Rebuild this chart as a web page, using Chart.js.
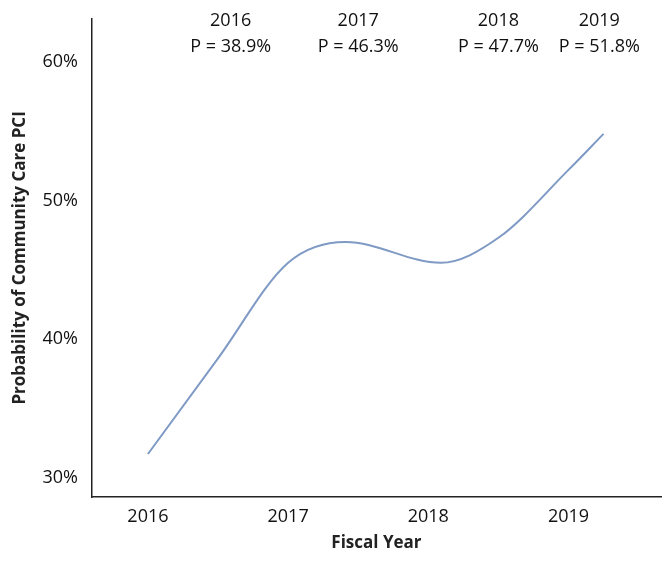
<!DOCTYPE html>
<html><head><meta charset="utf-8">
<script src="https://cdn.jsdelivr.net/npm/chart.js@4"></script>
<style>html,body{margin:0;padding:0;background:#fff}#w{width:664px;height:561px}</style>
</head><body><div id="w"><canvas id="c"></canvas></div>
<script>
const curveX = [2016, 2016.5, 2017, 2017.41, 2018.09, 2018.5, 2019, 2019.25];
const curveY = [31.7, 38.6, 45.5, 47.0, 45.5, 47.3, 52.2, 54.8];
const annotYears = ["2016", "2017", "2018", "2019"];
const annotLabels = ["P = 38.9%", "P = 46.3%", "P = 47.7%", "P = 51.8%"];
const annotX = [2016.59, 2017.5, 2018.5, 2019.22];
const xTicks = [2016, 2017, 2018, 2019];
const yTicks = [30, 40, 50, 60];

const annot = {id:'annot', afterDatasetsDraw(ch){
  const c=ch.ctx, xs=ch.scales.x;
  c.save(); c.fillStyle='#111'; c.font='18px "Open Sans"'; c.textAlign='center'; c.textBaseline='middle';
  annotX.forEach((v,i)=>{const px=xs.getPixelForValue(v); c.fillText(annotYears[i],px,21); c.fillText(annotLabels[i],px,47);});
  c.restore();
}};
new Chart(document.getElementById('c'),{
  type:'line',
  data:{datasets:[{data:curveX.map((x,i)=>({x,y:curveY[i]})),borderColor:'#7f9ac4',borderWidth:2,pointRadius:0,cubicInterpolationMode:'monotone',fill:false}]},
  options:{responsive:true,maintainAspectRatio:false,animation:false,
    layout:{padding:{top:0,right:3,left:6,bottom:4}},
    plugins:{legend:{display:false},tooltip:{enabled:false}},
    scales:{
      x:{type:'linear',min:2015.6,max:2019.66,
        afterBuildTicks(a){a.ticks=xTicks.map(v=>({value:v}));},
        grid:{display:false,tickLength:6,color:'#222'},border:{color:'#222',width:1.5},
        ticks:{color:'#111',font:{size:18,family:'Open Sans'},callback:v=>String(v)},
        title:{display:true,text:'Fiscal Year',color:'#222',font:{size:17,weight:'bold',family:'Open Sans'},padding:{top:2}}},
      y:{min:28.6,max:63.1,
        afterBuildTicks(a){a.ticks=yTicks.map(v=>({value:v}));},
        grid:{display:false,tickLength:6,color:'#222'},border:{color:'#222',width:1.5},
        ticks:{color:'#111',font:{size:18,family:'Open Sans'},padding:8,callback:v=>v+'%'},
        title:{display:true,text:'Probability of Community Care PCI',color:'#222',font:{size:17,weight:'bold',family:'Open Sans'}}}
    }},
  plugins:[annot]
});
</script></body></html>
